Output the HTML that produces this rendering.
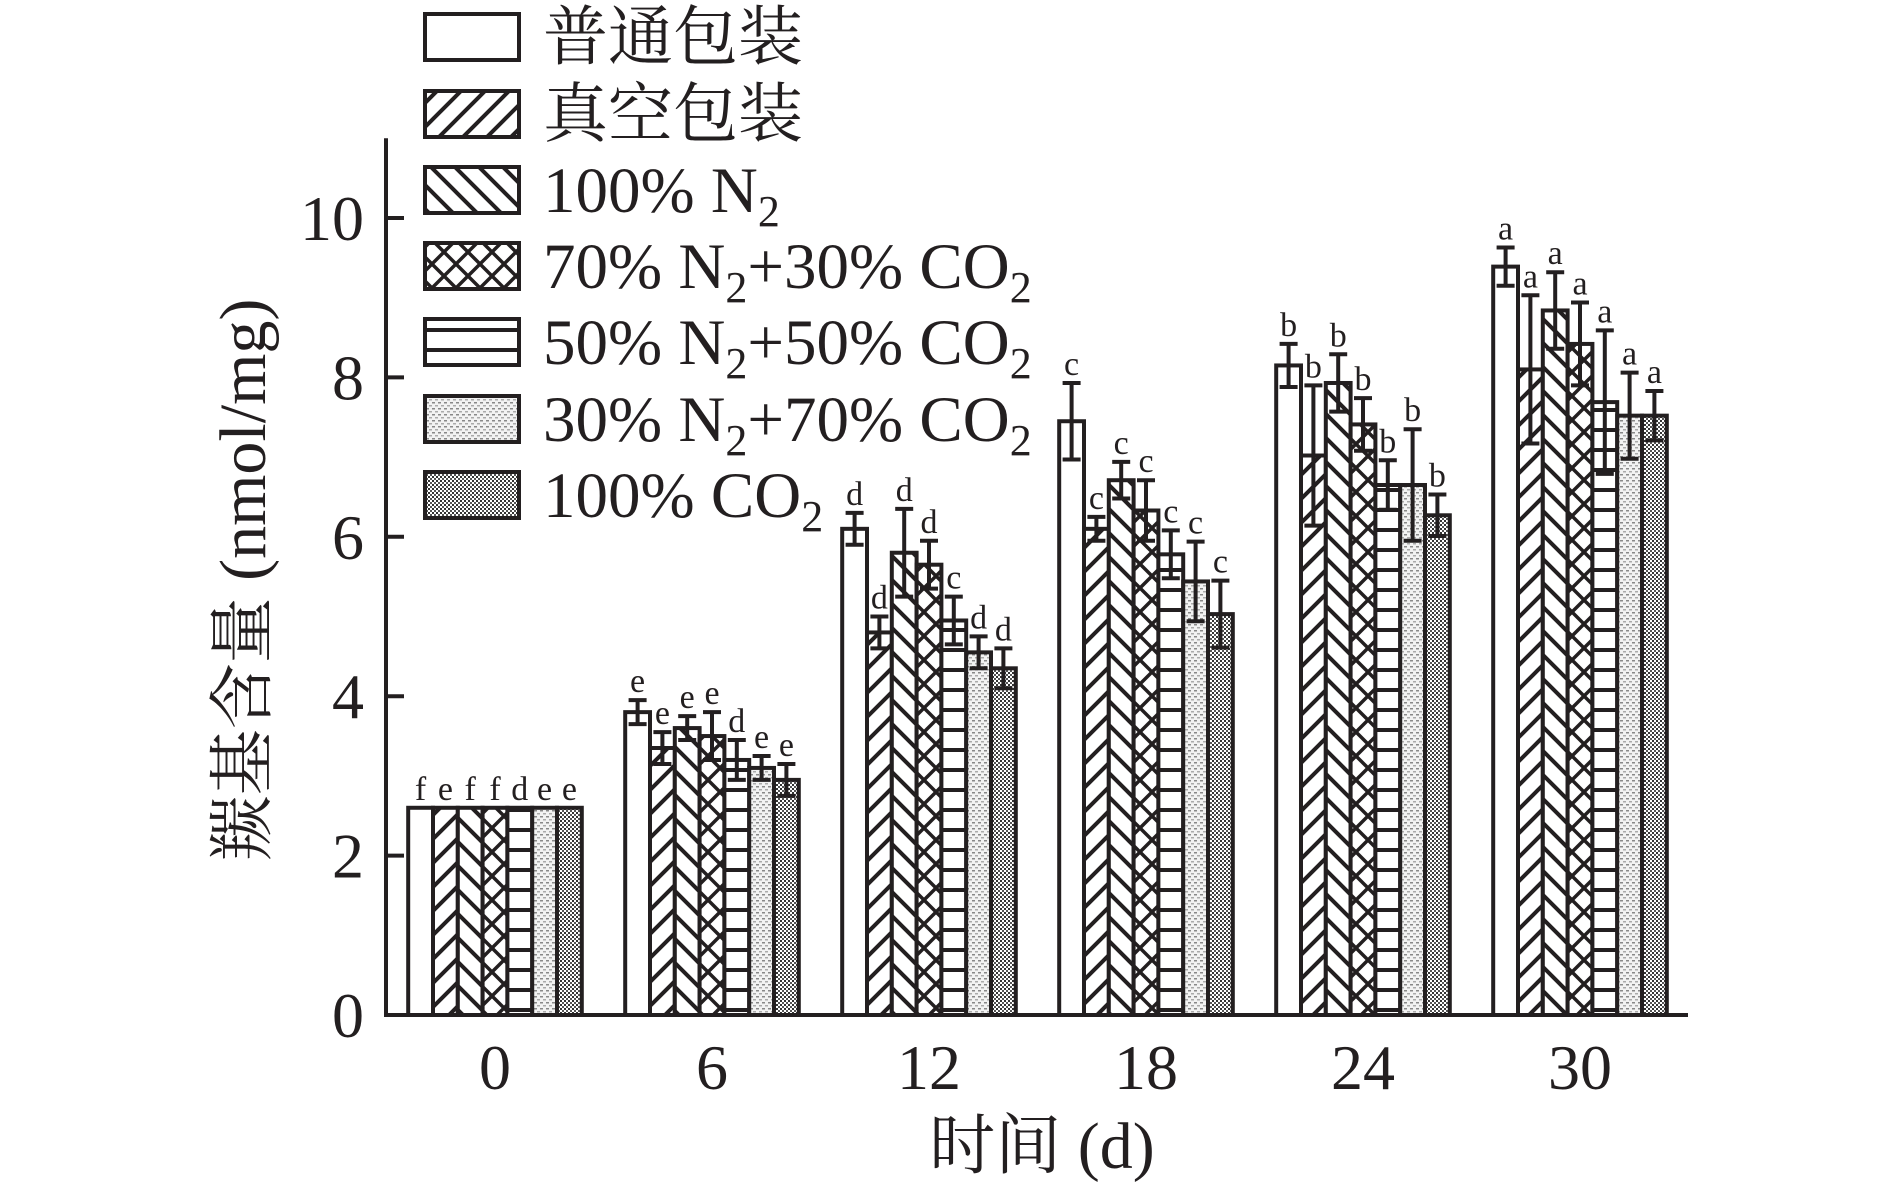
<!DOCTYPE html>
<html><head><meta charset="utf-8">
<style>
html,body{margin:0;padding:0;background:#fff;}
svg{display:block;}
text{font-family:"Liberation Serif","Noto Serif CJK SC",serif;fill:#231f20;}
</style></head>
<body>
<svg id="chart" width="1890" height="1185" viewBox="0 0 1890 1185" xmlns="http://www.w3.org/2000/svg">
<defs>
  <pattern id="p1" patternUnits="userSpaceOnUse" width="24" height="24"><rect width="24" height="24" fill="#fff"/><path d="M-6,30 L30,-6 M-6,6 L6,-6 M18,30 L30,18" stroke="#231f20" stroke-width="4"/></pattern>
  <pattern id="p2" patternUnits="userSpaceOnUse" width="24" height="24"><rect width="24" height="24" fill="#fff"/><path d="M-6,-6 L30,30 M18,-6 L30,6 M-6,18 L6,30" stroke="#231f20" stroke-width="4"/></pattern>
  <pattern id="p3" patternUnits="userSpaceOnUse" width="24" height="24"><rect width="24" height="24" fill="#fff"/><path d="M-6,-6 L30,30 M-6,30 L30,-6" stroke="#231f20" stroke-width="3.5"/></pattern>
  <pattern id="p4" patternUnits="userSpaceOnUse" width="20" height="20"><rect width="20" height="20" fill="#fff"/><path d="M0,10 L20,10" stroke="#231f20" stroke-width="4"/></pattern>
  <pattern id="p5" patternUnits="userSpaceOnUse" width="6" height="6"><rect width="6" height="6" fill="#f2f2f2"/><rect x="0" y="0" width="3" height="1.5" fill="#888"/><rect x="3" y="3" width="3" height="1.5" fill="#aaa"/></pattern>
  <pattern id="p6" patternUnits="userSpaceOnUse" width="4" height="4"><rect width="4" height="4" fill="#fff"/><rect x="0" y="0" width="2" height="2" fill="#333"/><rect x="2" y="2" width="2" height="2" fill="#555"/></pattern>
</defs>
<g id="legend"></g>
<g id="bars"></g>
<g id="axes"></g>
<text x="1042" y="1168" font-size="66" text-anchor="middle">时间 (d)</text>
<text transform="translate(265,580) rotate(-90)" font-size="66" text-anchor="middle">羰基含量 (nmol/mg)</text>
</svg>
<script>
const categories = ["0","6","12","18","24","30"];
const seriesNames = ["普通包装","真空包装","100% N2","70% N2+30% CO2","50% N2+50% CO2","30% N2+70% CO2","100% CO2"];
const s0 = [2.6, 3.8, 6.1, 7.45, 8.15, 9.39];
const s1 = [2.6, 3.35, 4.8, 6.1, 7.02, 8.1];
const s2 = [2.6, 3.6, 5.8, 6.71, 7.93, 8.84];
const s3 = [2.6, 3.5, 5.65, 6.33, 7.41, 8.42];
const s4 = [2.6, 3.2, 4.95, 5.78, 6.65, 7.69];
const s5 = [2.6, 3.1, 4.55, 5.44, 6.65, 7.52];
const s6 = [2.6, 2.95, 4.35, 5.03, 6.27, 7.52];
const e0 = [0, 0.15, 0.2, 0.48, 0.27, 0.24];
const e1 = [0, 0.2, 0.2, 0.15, 0.88, 0.93];
const e2 = [0, 0.15, 0.55, 0.23, 0.36, 0.48];
const e3 = [0, 0.3, 0.3, 0.38, 0.33, 0.52];
const e4 = [0, 0.25, 0.3, 0.3, 0.31, 0.9];
const e5 = [0, 0.15, 0.2, 0.5, 0.7, 0.54];
const e6 = [0, 0.2, 0.25, 0.42, 0.26, 0.31];
const letters0 = ["f","e","f","f","d","e","e"];
const letters1 = ["e","e","e","e","d","e","e"];
const letters2 = ["d","d","d","d","c","d","d"];
const letters3 = ["c","c","c","c","c","c","c"];
const letters4 = ["b","b","b","b","b","b","b"];
const letters5 = ["a","a","a","a","a","a","a"];
const yTicks = [0,2,4,6,8,10];

const NS = "http://www.w3.org/2000/svg";
const series = [s0,s1,s2,s3,s4,s5,s6];
const errs = [e0,e1,e2,e3,e4,e5,e6];
const letters = [letters0,letters1,letters2,letters3,letters4,letters5];
const fills = ["#fff","url(#p1)","url(#p2)","url(#p3)","url(#p4)","url(#p5)","url(#p6)"];
const X0 = 386, X1 = 1688, Y0 = 1015, UNIT = 79.7, YMAX = 11;
const GROUP0 = 495, GSTEP = 217, BW = 24.8;
function y(v){ return Y0 - v*UNIT; }
function xc(i){ return GROUP0 + i*GSTEP; }
function mk(tag, attrs, parent){ const e=document.createElementNS(NS,tag); for(const k in attrs) e.setAttribute(k, attrs[k]); parent.appendChild(e); return e; }

const bars = document.getElementById("bars");
for(let c=0;c<categories.length;c++){
  for(let s=0;s<series.length;s++){
    const v = series[s][c], er = errs[s][c];
    const bx = xc(c) - 3.5*BW + s*BW;
    const r = mk("rect",{x:bx,y:y(v),width:BW,height:Y0-y(v),fill:fills[s],stroke:"#231f20","stroke-width":4},bars);
    
    
    const cx = bx + BW/2;
    if(er>0){
      const eb = mk("path",{d:`M${cx},${y(v-er)} L${cx},${y(v+er)} M${cx-9},${y(v+er)} L${cx+9},${y(v+er)} M${cx-9},${y(v-er)} L${cx+9},${y(v-er)}`,stroke:"#231f20","stroke-width":4,fill:"none"},bars);
      
      
    }
    const t = mk("text",{x:cx,y:y(v+er)-8,"font-size":34,"text-anchor":"middle"},bars);
    t.textContent = letters[c][s];
    
    
  }
}

const axes = document.getElementById("axes");
const ax = mk("path",{d:`M${X0},${y(YMAX)} L${X0},${Y0} L${X1},${Y0}`,stroke:"#231f20","stroke-width":4,fill:"none"},axes);


for(const t of yTicks){
  const tk = mk("path",{d:`M${X0},${y(t)} L${X0+18},${y(t)}`,stroke:"#231f20","stroke-width":4},axes);
  
  
  const lb = mk("text",{x:X0-22,y:y(t)+22,"font-size":64,"text-anchor":"end"},axes);
  lb.textContent = t;
  
  
}
for(let c=0;c<categories.length;c++){
  const lb = mk("text",{x:xc(c),y:1089,"font-size":64,"text-anchor":"middle"},axes);
  lb.textContent = categories[c];
  
  
}

const legend = document.getElementById("legend");
const rowsY = [36,113,189,265,341,418,494];
const labelsHTML = ["普通包装","真空包装","100% N<tspan font-size='44' dy='14'>2</tspan>",
 "70% N<tspan font-size='44' dy='14'>2</tspan><tspan dy='-14'>+30% CO</tspan><tspan font-size='44' dy='14'>2</tspan>",
 "50% N<tspan font-size='44' dy='14'>2</tspan><tspan dy='-14'>+50% CO</tspan><tspan font-size='44' dy='14'>2</tspan>",
 "30% N<tspan font-size='44' dy='14'>2</tspan><tspan dy='-14'>+70% CO</tspan><tspan font-size='44' dy='14'>2</tspan>",
 "100% CO<tspan font-size='44' dy='14'>2</tspan>"];
for(let s=0;s<seriesNames.length;s++){
  const g = mk("g",{},legend);
  
  
  mk("rect",{x:425,y:rowsY[s]-22,width:94,height:46,fill:fills[s],stroke:"#231f20","stroke-width":4},g);
  const t = mk("text",{x:543,y:rowsY[s]+23,"font-size":65},g);
  t.innerHTML = labelsHTML[s];
}
</script>
</body></html>
